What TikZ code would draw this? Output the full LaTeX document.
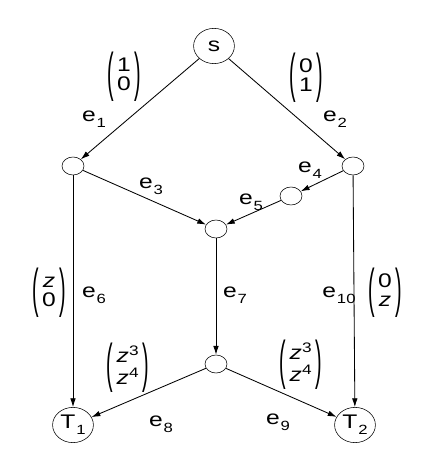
\documentclass[tikz,border=0pt]{standalone}
\usepackage{fontspec}
\setmainfont{Liberation Sans}[FakeStretch=1.25]
\usepackage{graphicx}
\usetikzlibrary{arrows.meta, shapes.geometric}

\newcommand{\sub}[1]{\kern0.6pt\raisebox{-4pt}{\fontsize{9.5}{10}\selectfont #1}}
\newcommand{\elab}[1]{e\sub{#1}}
\newcommand{\tallparen}[1]{\vcenter{\hbox{\scalebox{0.8}[2.7]{#1}}}}
\newcommand{\cvec}[2]{$\tallparen{(}\vcenter{\hbox{\begin{tabular}{@{\kern2.5pt}c@{\kern2.5pt}}#1\\#2\end{tabular}}}\tallparen{)}$}

\begin{document}
\begin{tikzpicture}[
    x=0.025cm, y=-0.025cm,
    font=\fontsize{14}{13.5}\selectfont,
    vertex/.style={
      draw,
      ellipse,
      inner sep=0pt,
      minimum width=0.55cm,
      minimum height=0.45cm
    },
    term/.style={
      draw,
      ellipse,
      inner sep=0pt,
      minimum width=1.02cm,
      minimum height=0.88cm
    },
    line/.style={-{Latex[length=2.2mm,width=1.4mm]}, line width=0.6pt}
  ]

  \useasboundingbox (0,0) rectangle (443,471);

  % ===================== 节点 =====================
  \node[term] (s) at (214,46) {s};
  \node[vertex] (a) at (73,166) {};
  \node[vertex] (b) at (353,166) {};
  \node[vertex] (c) at (291,196) {};
  \node[vertex] (m) at (216,229) {};
  \node[vertex] (d) at (216,364) {};
  \node[term] (t1) at (73,425) {T\sub{1}};
  \node[term] (t2) at (355,425) {T\sub{2}};

  % ===================== 边 =====================
  \draw[line] (s) -- (a);
  \draw[line] (s) -- (b);
  \draw[line] (a) -- (m);
  \draw[line] (b) -- (c);
  \draw[line] (c) -- (m);
  \draw[line] (a) -- (t1);
  \draw[line] (m) -- (d);
  \draw[line] (d) -- (t1);
  \draw[line] (d) -- (t2);
  \draw[line] (b) -- (t2);

  % ===================== 边标签 =====================
  \node (l1) at (94,119) {\elab{1}};
  \node (l2) at (335,119) {\elab{2}};
  \node (l3) at (151,186) {\elab{3}};
  \node (l4) at (310,170) {\elab{4}};
  \node (l5) at (251,202) {\elab{5}};
  \node (l6) at (94,295) {\elab{6}};
  \node (l7) at (235,295) {\elab{7}};
  \node (l8) at (161,424) {\elab{8}};
  \node (l9) at (278,422) {\elab{9}};
  \node (l10) at (339,295) {\elab{10}};

  % ===================== 编码向量 =====================
  \node (v1) at (124,77) {\cvec{1}{0}};
  \node (v2) at (306,78) {\cvec{0}{1}};
  \node (v6) at (49,293) {\cvec{\textit{z}}{0}};
  \node (v10) at (385,293) {\cvec{0}{\textit{z}}};
  \node (v8) at (128,368) {\cvec{\textit{z}\textsuperscript{3}}{\textit{z}\textsuperscript{4}}};
  \node (v9) at (301,365) {\cvec{\textit{z}\textsuperscript{3}}{\textit{z}\textsuperscript{4}}};

\end{tikzpicture}
\end{document}
